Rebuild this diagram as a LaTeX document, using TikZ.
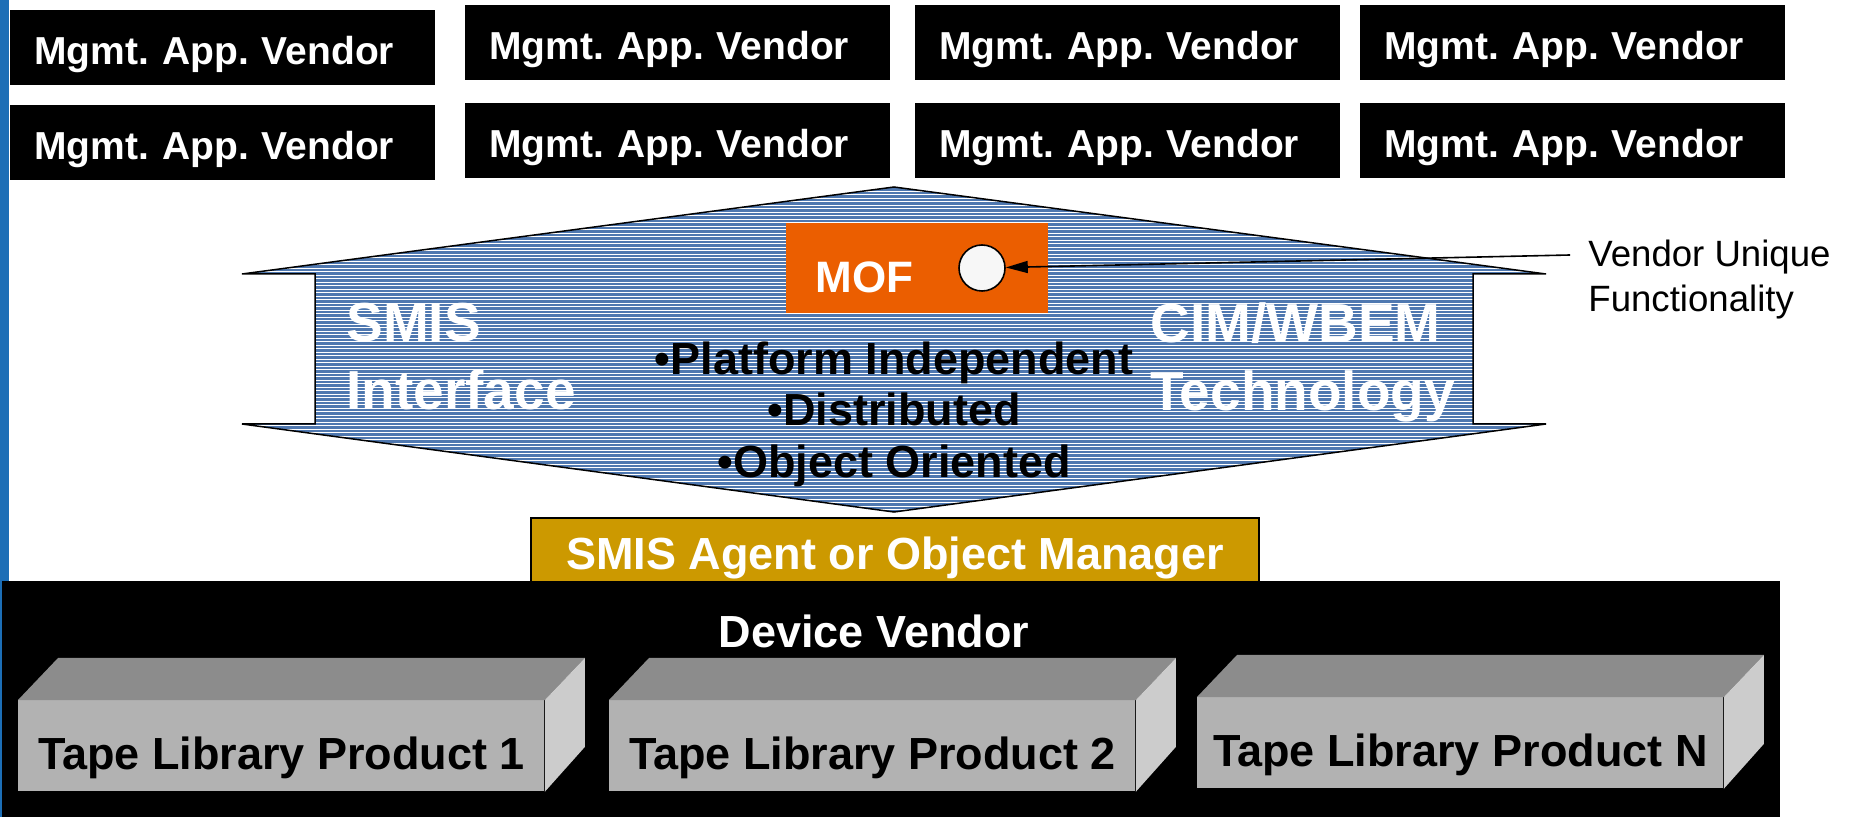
\documentclass[tikz,border=0pt]{standalone}
\usepackage{fontspec}
\setmainfont{Liberation Sans}
\usetikzlibrary{arrows.meta}
\frenchspacing

\definecolor{stripblue}{RGB}{28,110,182}
\definecolor{arrowblue}{RGB}{79,120,176}
\definecolor{moforange}{RGB}{235,94,0}
\definecolor{agentgold}{RGB}{204,153,0}
\definecolor{bulbgray}{RGB}{247,247,247}
\definecolor{frontgray}{RGB}{178,178,178}
\definecolor{topgray}{RGB}{140,140,140}
\definecolor{sidegray}{RGB}{204,204,204}

\begin{document}
\begin{tikzpicture}[x=0.5pt,y=-0.5pt,
  vendorbox/.style={fill=black, text=white, anchor=north west, inner xsep=12pt,
    inner ysep=10.5pt, text width=188.5pt, align=left, text height=16.5pt,
    text depth=0pt, font=\bfseries\fontsize{19.5}{23}\selectfont},
  bigwhite/.style={text=white, anchor=north west, inner sep=0pt, align=left,
    font=\bfseries\fontsize{27.5}{34}\selectfont},
  tapefront/.style={fill=frontgray, anchor=north west, minimum width=263pt,
    inner xsep=0pt, inner ysep=11pt, text height=23.5pt, text depth=0pt,
    font=\bfseries\fontsize{22.5}{27}\selectfont},
  tapetop/.style={fill=topgray},
  tapeside/.style={fill=sidegray},
  outline/.style={draw=black, line width=0.75pt, line join=miter}
]
\useasboundingbox (0,0) rectangle (1858,817);

% blue strip along the left edge
\fill[stripblue] (0,0) rectangle (9,817);

% management application vendors
\node[vendorbox] (v11) at (10,10)    {Mgmt. App. Vendor};
\node[vendorbox] (v12) at (465,5)    {Mgmt. App. Vendor};
\node[vendorbox] (v13) at (915,5)    {Mgmt. App. Vendor};
\node[vendorbox] (v14) at (1360,5)   {Mgmt. App. Vendor};
\node[vendorbox] (v21) at (10,105)   {Mgmt. App. Vendor};
\node[vendorbox] (v22) at (465,103)  {Mgmt. App. Vendor};
\node[vendorbox] (v23) at (915,103)  {Mgmt. App. Vendor};
\node[vendorbox] (v24) at (1360,103) {Mgmt. App. Vendor};

% double-headed interface arrow
\coordinate (ltip) at (242,274);
\coordinate (top)  at (894,187);
\coordinate (rtip) at (1546,274);
\coordinate (rnt)  at (1473,274);
\coordinate (rnb)  at (1473,424);
\coordinate (rbot) at (1546,424);
\coordinate (bot)  at (894,512);
\coordinate (lbot) at (242,424);
\coordinate (lnb)  at (315,424);
\coordinate (lnt)  at (315,274);
\begin{scope}
  \clip (ltip) -- (top) -- (rtip) -- (rnt) -- (rnb) -- (rbot) -- (bot)
        -- (lbot) -- (lnb) -- (lnt) -- cycle;
  \fill[arrowblue] (230,180) rectangle (1560,520);
  \foreach \yy in {188,191.5,...,514}
    \draw[white, line width=0.5pt] (230,\yy) -- (1560,\yy);
\end{scope}
\draw[outline] (ltip) -- (top) -- (rtip) -- (rnt) -- (rnb) -- (rbot) -- (bot)
      -- (lbot) -- (lnb) -- (lnt) -- cycle;

\node[bigwhite] (smis) at (346,303) {SMIS\\Interface};
\node[bigwhite] (cim) at (1150,302) {CIM/WBEM\\Technology};
\node[anchor=north, inner sep=0pt, align=center,
      font=\bfseries\fontsize{22.5}{25.75}\selectfont] (props) at (894,341)
  {•Platform Independent\\•Distributed\\•Object Oriented};

% MOF block with the vendor-specific extension
\node[fill=moforange, anchor=north west, minimum width=131pt, minimum height=45pt,
      inner sep=0pt] (mof) at (786,223) {};
\node[text=white, anchor=base west, inner sep=0pt,
      font=\bfseries\fontsize{22}{26}\selectfont] (moftext) at (815,293) {MOF};
\node[circle, draw=black, line width=0.8pt, fill=bulbgray, minimum size=23pt,
      inner sep=0pt] (bulb) at (982,268) {};

\node[anchor=north west, inner sep=0pt, align=left,
      font=\fontsize{18.3}{22.5}\selectfont] (vu) at (1588,240)
  {Vendor Unique\\Functionality};
\coordinate (vuend) at (1570,255);
\draw[line width=0.8pt, -{Triangle[length=11pt,width=6pt]}] (vuend) -- (bulb);

% agent / object manager
\node[fill=agentgold, draw=black, line width=1pt, anchor=north west,
      minimum width=364pt, inner xsep=0pt, inner ysep=7pt, text height=19pt,
      text depth=0pt, text=white, font=\bfseries\fontsize{22.5}{27}\selectfont]
  (agent) at (530,517) {SMIS Agent or Object Manager};

% device vendor area
\node[fill=black, anchor=north west, minimum width=889pt, minimum height=118pt,
      inner sep=0pt] (dev) at (2,581) {};
\node[text=white, anchor=base, inner sep=0pt,
      font=\bfseries\fontsize{22.5}{27}\selectfont] (devtext) at (874,647)
  {Device Vendor};

% tape library products
\node[tapefront] (p1) at (18,700)   {Tape Library Product 1};
\node[tapefront] (p2) at (609,700)  {Tape Library Product 2};
\node[tapefront] (pn) at (1197,697) {Tape Library Product N};
\foreach \p in {p1,p2,pn} {
  \fill[tapetop] (\p.north west) -- ++(40,-42)
    -- ([shift={(40,-42)}]\p.north east) -- (\p.north east) -- cycle;
  \fill[tapeside] (\p.north east) -- ++(40,-42) -- ++(0,89)
    -- (\p.south east) -- cycle;
}
\end{tikzpicture}
\end{document}
